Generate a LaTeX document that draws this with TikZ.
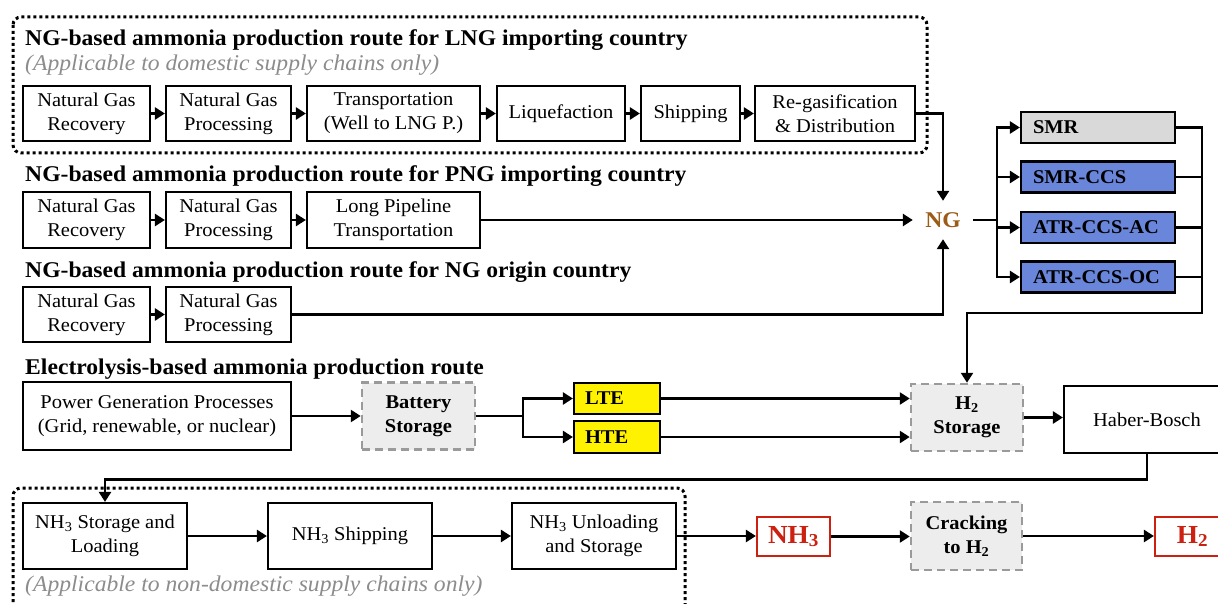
\documentclass[tikz,border=0pt]{standalone}
\usepackage{fontspec}
\setmainfont{Liberation Serif}[FakeStretch=1.05]
\usetikzlibrary{arrows.meta}
\definecolor{ngbrown}{HTML}{9C5B17}
\definecolor{nhred}{HTML}{CC2010}
\definecolor{smrgray}{HTML}{D9D9D9}
\definecolor{ccsblue}{HTML}{6A86DA}
\definecolor{dashfill}{HTML}{EDEDED}
\definecolor{dashdraw}{HTML}{9A9A9A}
\definecolor{subgray}{HTML}{8C8C8C}
\begin{document}
\begin{tikzpicture}[x=1pt,y=-1pt,
  box/.style={draw, line width=2.2pt, fill=white, align=center, inner sep=0pt,
    font=\fontsize{19.5}{24}\selectfont},
  optbox/.style={draw, line width=2.2pt, inner xsep=12pt, inner ysep=0pt, text width=#1, align=left,
    minimum height=31pt, font=\fontsize{19.5}{24}\selectfont\bfseries},
  dbox/.style={draw=dashdraw, fill=dashfill, dash pattern=on 8pt off 5pt, line width=2.5pt,
    align=center, inner sep=0pt, font=\fontsize{19.5}{24}\selectfont\bfseries},
  redbox/.style={draw=nhred, line width=2.2pt, fill=white, text=nhred, inner sep=0pt,
    font=\fontsize{26}{30}\selectfont\bfseries},
  title/.style={anchor=base west, inner sep=0pt, font=\fontsize{22.5}{27}\selectfont\bfseries},
  subtitle/.style={anchor=base west, inner sep=0pt, text=subgray, font=\fontsize{22.5}{27}\selectfont\itshape},
  conn/.style={line width=2.8pt, -{Triangle[length=10pt,width=12pt]}},
  plainln/.style={line width=2.8pt},
  dotbox/.style={line width=3pt, dash pattern=on 3pt off 3pt, rounded corners=8pt}
]
\useasboundingbox (0,0) rectangle (1218,604);

% dotted groups
\draw[dotbox] (13,17) rectangle (927,153);
\draw[dotbox] (13,650) -- (13,488) -- (685,488) -- (685,650);

% titles
\node[title] (t1) at (25,46) {NG-based ammonia production route for LNG importing country};
\node[subtitle] (s1) at (25,71) {(Applicable to domestic supply chains only)};
\node[title] (t2) at (25,182) {NG-based ammonia production route for PNG importing country};
\node[title] (t3) at (25,277) {NG-based ammonia production route for NG origin country};
\node[title] (t4) at (25,374) {Electrolysis-based ammonia production route};
\node[subtitle] (s2) at (25,591) {(Applicable to non-domestic supply chains only)};

% row 1
\node[box, minimum width=127pt, minimum height=55pt] (r1a) at (86.5,113.5) {Natural Gas\\Recovery};
\node[box, minimum width=125pt, minimum height=55pt] (r1b) at (228.5,113.5) {Natural Gas\\Processing};
\node[box, minimum width=173pt, minimum height=55pt] (r1c) at (393.5,113.5) {Transportation\\(Well to LNG P.)};
\node[box, minimum width=128pt, minimum height=55pt] (r1d) at (561,113.5) {Liquefaction};
\node[box, minimum width=99pt, minimum height=55pt] (r1e) at (690.5,113.5) {Shipping};
\node[box, minimum width=160pt, minimum height=55pt] (r1f) at (835,113.5) {Re-gasification\\\&~Distribution};
% row 2
\node[box, minimum width=127pt, minimum height=56pt] (r2a) at (86.5,220) {Natural Gas\\Recovery};
\node[box, minimum width=125pt, minimum height=56pt] (r2b) at (228.5,220) {Natural Gas\\Processing};
\node[box, minimum width=173pt, minimum height=56pt] (r2c) at (393.5,220) {Long Pipeline\\Transportation};
% row 3
\node[box, minimum width=127pt, minimum height=55pt] (r3a) at (86.5,314.5) {Natural Gas\\Recovery};
\node[box, minimum width=125pt, minimum height=55pt] (r3b) at (228.5,314.5) {Natural Gas\\Processing};

% NG
\node[inner sep=0pt, minimum width=60pt, minimum height=38pt, text=ngbrown,
  font=\fontsize{22.5}{27}\selectfont\bfseries] (ng) at (943,220) {NG};

% reforming options
\node[optbox=130pt, fill=smrgray] (smr) at (1098,127.5) {SMR};
\node[optbox=130pt, fill=ccsblue] (smrccs) at (1098,177) {SMR-CCS};
\node[optbox=130pt, fill=ccsblue] (atrac) at (1098,227.5) {ATR-CCS-AC};
\node[optbox=130pt, fill=ccsblue] (atroc) at (1098,277) {ATR-CCS-OC};

% electrolysis row
\node[box, minimum width=268pt, minimum height=68pt] (pow) at (157,416) {Power Generation Processes\\(Grid, renewable, or nuclear)};
\node[dbox, minimum width=113pt, minimum height=67pt] (bat) at (418.5,416) {Battery\\Storage};
\node[optbox=64pt, inner xsep=11pt, fill=yellow] (lte) at (617,398.5) {LTE};
\node[optbox=64pt, inner xsep=11pt, fill=yellow, minimum height=32pt] (hte) at (617,437) {HTE};
\node[dbox, minimum width=112pt, minimum height=67pt] (h2s) at (967,417.5) {H\textsubscript{2}\\Storage};
\node[box, minimum width=166pt, minimum height=67pt] (hb) at (1147,419.5) {Haber-Bosch};

% bottom row
\node[box, minimum width=164pt, minimum height=66pt] (nst) at (105,536) {NH\textsubscript{3} Storage and\\Loading};
\node[box, minimum width=164pt, minimum height=66pt] (nsh) at (350,536) {NH\textsubscript{3} Shipping};
\node[box, minimum width=164pt, minimum height=66pt] (nun) at (594,536) {NH\textsubscript{3} Unloading\\and Storage};
\node[redbox, minimum width=73pt, minimum height=39pt] (nh3) at (793.5,536.5) {NH\textsubscript{3}};
\node[dbox, minimum width=111pt, minimum height=68pt] (crk) at (966.5,536) {Cracking\\to H\textsubscript{2}};
\node[redbox, minimum width=75pt, minimum height=39pt] (h2) at (1192.5,536.5) {H\textsubscript{2}};

% coordinates
\coordinate (brA) at (997,220);
\coordinate (colR) at (1202,313);
\coordinate (brB) at (523,416);

% row connectors
\draw[conn] (r1a) -- (r1b);
\draw[conn] (r1b) -- (r1c);
\draw[conn] (r1c) -- (r1d);
\draw[conn] (r1d) -- (r1e);
\draw[conn] (r1e) -- (r1f);
\draw[conn] (r2a) -- (r2b);
\draw[conn] (r2b) -- (r2c);
\draw[conn] (r3a) -- (r3b);
\draw[conn] (r1f.east) -| (ng.north);
\draw[conn] (r2c.east) -- (ng.west);
\draw[conn] (r3b.east) -| (ng.south);

% NG to options
\draw[plainln] (ng.east) -- (brA);
\draw[conn] (brA) |- (smr.west);
\draw[conn] (brA) |- (smrccs.west);
\draw[conn] (brA) |- (atrac.west);
\draw[conn] (brA) |- (atroc.west);
\draw[conn] (smr.east) -| (colR) -| (h2s.north);
\draw[plainln] (smrccs.east) -- (smrccs.east -| colR);
\draw[plainln] (atrac.east) -- (atrac.east -| colR);
\draw[plainln] (atroc.east) -- (atroc.east -| colR);

% electrolysis connectors
\draw[conn] (pow.east) -- (bat.west);
\draw[plainln] (bat.east) -- (brB);
\draw[conn] (brB) |- (lte.west);
\draw[conn] (brB) |- (hte.west);
\draw[conn] (lte.east) -- (lte.east -| h2s.west);
\draw[conn] (hte.east) -- (hte.east -| h2s.west);
\draw[conn] (h2s.east) -- (h2s.east -| hb.west);
\draw[conn] (hb.south) -- ++(0,25) -| (nst.north);

% bottom connectors
\draw[conn] (nst) -- (nsh);
\draw[conn] (nsh) -- (nun);
\draw[conn] (nun.east) -- (nun.east -| nh3.west);
\draw[conn] (nh3.east) -- (nh3.east -| crk.west);
\draw[conn] (crk.east) -- (crk.east -| h2.west);
\end{tikzpicture}
\end{document}
